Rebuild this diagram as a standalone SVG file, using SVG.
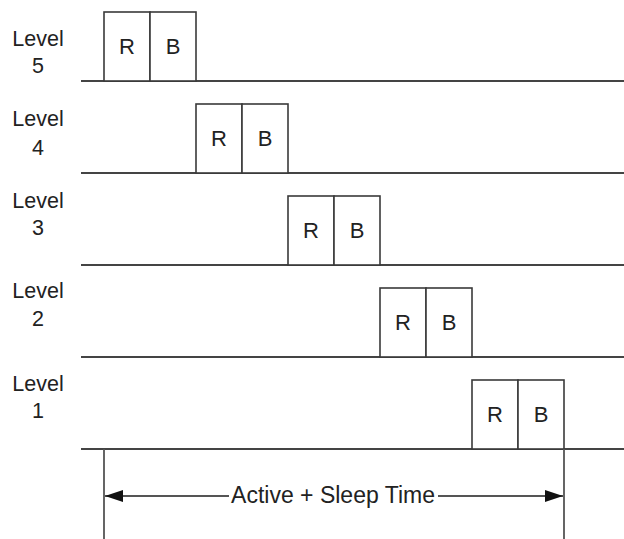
<svg xmlns="http://www.w3.org/2000/svg" width="624" height="539" viewBox="0 0 624 539">
<defs>
<style>
.lbl{font-family:"Liberation Sans",Arial,sans-serif;font-size:21.5px;fill:#222;text-anchor:middle}
.rb{font-family:"Liberation Sans",Arial,sans-serif;font-size:22px;fill:#222;text-anchor:middle}
.box{fill:#fff;stroke:#3a3a3a;stroke-width:1.6}
.base{stroke:#444;stroke-width:2;fill:none}
.ln{stroke:#555;stroke-width:1.8;fill:none}
</style>
<marker id="ah" viewBox="0 0 18 12" refX="18" refY="6" markerWidth="18" markerHeight="12" markerUnits="userSpaceOnUse" orient="auto-start-reverse">
<path d="M0,0 L18,6 L0,12 Z" fill="#111"/>
</marker>
</defs>
<rect width="624" height="539" fill="#fff"/>
<g id="baselines">
<line class="base" x1="81" y1="81" x2="624" y2="81"/>
<line class="base" x1="81" y1="173" x2="624" y2="173"/>
<line class="base" x1="81" y1="265" x2="624" y2="265"/>
<line class="base" x1="81" y1="357" x2="624" y2="357"/>
<line class="base" x1="81" y1="449" x2="624" y2="449"/>
</g>
<g id="level5">
<text class="lbl" x="38" y="46">Level</text><text class="lbl" x="38" y="73">5</text>
<rect class="box" x="104" y="12" width="46" height="69"/><rect class="box" x="150" y="12" width="46" height="69"/>
<text class="rb" x="127" y="54">R</text><text class="rb" x="173" y="54">B</text>
</g>
<g id="level4">
<text class="lbl" x="38" y="126">Level</text><text class="lbl" x="38" y="155">4</text>
<rect class="box" x="196" y="104" width="46" height="69"/><rect class="box" x="242" y="104" width="46" height="69"/>
<text class="rb" x="219" y="146">R</text><text class="rb" x="265" y="146">B</text>
</g>
<g id="level3">
<text class="lbl" x="38" y="208">Level</text><text class="lbl" x="38" y="235">3</text>
<rect class="box" x="288" y="196" width="46" height="69"/><rect class="box" x="334" y="196" width="46" height="69"/>
<text class="rb" x="311" y="238">R</text><text class="rb" x="357" y="238">B</text>
</g>
<g id="level2">
<text class="lbl" x="38" y="298">Level</text><text class="lbl" x="38" y="326">2</text>
<rect class="box" x="380" y="288" width="46" height="69"/><rect class="box" x="426" y="288" width="46" height="69"/>
<text class="rb" x="403" y="330">R</text><text class="rb" x="449" y="330">B</text>
</g>
<g id="level1">
<text class="lbl" x="38" y="391">Level</text><text class="lbl" x="38" y="418">1</text>
<rect class="box" x="472" y="380" width="46" height="69"/><rect class="box" x="518" y="380" width="46" height="69"/>
<text class="rb" x="495" y="422">R</text><text class="rb" x="541" y="422">B</text>
</g>
<g id="connectors">
<line class="ln" x1="104" y1="449" x2="104" y2="539"/>
<line class="ln" x1="564" y1="449" x2="564" y2="539"/>
<line class="ln" x1="229" y1="496" x2="105" y2="496" marker-end="url(#ah)"/>
<line class="ln" x1="438" y1="496" x2="563" y2="496" marker-end="url(#ah)"/>
<text class="rb" x="333" y="503" style="font-size:23px">Active + Sleep Time</text>
</g>
</svg>
